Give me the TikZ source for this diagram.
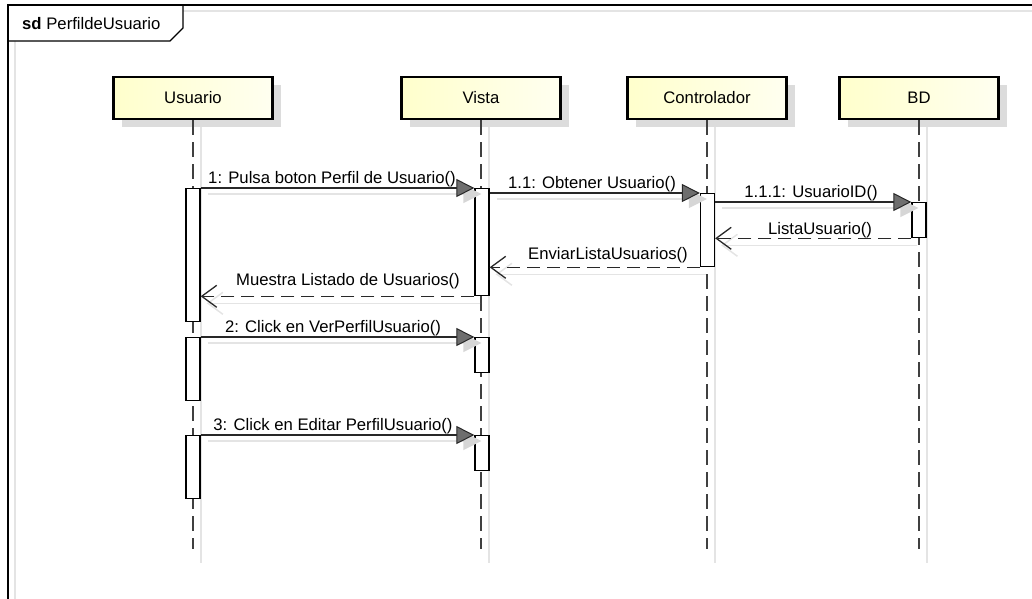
\documentclass[tikz,border=0pt]{standalone}
\usepackage{fontspec}
\setmainfont{Liberation Sans}
\usetikzlibrary{arrows.meta}

\definecolor{headL}{RGB}{255,255,204}
\definecolor{headR}{RGB}{255,255,240}
\definecolor{dropshade}{RGB}{220,220,220}
\definecolor{ghost}{RGB}{228,228,228}
\definecolor{ghosttip}{RGB}{214,214,214}
\definecolor{lifegray}{RGB}{64,64,64}
\definecolor{tipgray}{RGB}{110,110,110}
\definecolor{msgline}{RGB}{40,40,40}

\begin{document}
\begin{tikzpicture}[x=1pt,y=-1pt,
  every node/.style={font=\fontsize{16.7}{20}\selectfont, inner sep=0pt},
  head/.style={draw=black, line width=2.5pt, minimum width=159pt, minimum height=42pt,
    left color=headL, right color=headR},
  headdrop/.style={fill=dropshade, minimum width=159pt, minimum height=42pt},
  life/.style={draw=lifegray, line width=1.5pt, dash pattern=on 15pt off 7pt},
  lifeghost/.style={draw=ghost, line width=1.5pt},
  bar/.style={draw=black, fill=white, line width=1.3pt, minimum width=14pt, anchor=north},
  call/.style={draw=msgline, line width=1.2pt,
    -{Triangle[length=18pt,width=18pt,fill=tipgray,line width=1pt]}},
  callghost/.style={draw=ghost, line width=1.5pt,
    -{Triangle[length=18pt,width=18pt,fill=ghosttip,color=ghosttip]}},
  reply/.style={draw=msgline, line width=1.4pt, dash pattern=on 13pt off 7pt,
    -{Straight Barb[length=15pt,width=22pt,line width=1.3pt]}},
  replyghost/.style={draw=ghost, line width=1.5pt,
    -{Straight Barb[length=15pt,width=22pt,line width=1.5pt]}},
  msglabel/.style={anchor=base}
]
\useasboundingbox (0,0) rectangle (1032,598);
\clip (0,0) rectangle (1032,598);

% interaction frame
\draw[ghost, line width=1.5pt] (15,620) -- (15,11) -- (1050,11);
\path[fill=white] (8,5) -- (183,5) -- (183,28) -- (170,41) -- (8,41) -- cycle;
\draw[black, line width=1.3pt] (183,5) -- (183,28) -- (170,41) -- (8,41);
\draw[black, line width=1.3pt] (8,620) -- (8,5) -- (1050,5);
\node[anchor=base west] (frametitle) at (22,29) {\textbf{sd} PerfildeUsuario};

% lifeline heads: drop shadows first
\node[headdrop] (usrS) at (201,106) {};
\node[headdrop] (visS) at (489,106) {};
\node[headdrop] (ctlS) at (715,106) {};
\node[headdrop] (bdS)  at (927,106) {};

\node[head] (usr) at (193,98) {Usuario};
\node[head] (vis) at (481,98) {Vista};
\node[head] (ctl) at (707,98) {Controlador};
\node[head] (bd)  at (919,98) {BD};

% lifeline ends
\coordinate (usrEnd) at (193,549);
\coordinate (visEnd) at (481,549);
\coordinate (ctlEnd) at (707,549);
\coordinate (bdEnd)  at (919,549);

% lifeline shadows
\draw[lifeghost] (usrS.south) -- ([shift={(8,14)}]usrEnd);
\draw[lifeghost] (visS.south) -- ([shift={(8,14)}]visEnd);
\draw[lifeghost] (ctlS.south) -- ([shift={(8,14)}]ctlEnd);
\draw[lifeghost] (bdS.south)  -- ([shift={(8,14)}]bdEnd);

% lifelines
\draw[life] (usr.south) -- (usrEnd);
\draw[life] (vis.south) -- (visEnd);
\draw[life] (ctl.south) -- (ctlEnd);
\draw[life] (bd.south)  -- (bdEnd);

% activation bars
\node[bar, minimum height=133pt] (ua1) at (193,188) {};
\node[bar, minimum height=63pt]  (ua2) at (193,337) {};
\node[bar, minimum height=63pt]  (ua3) at (193,435) {};
\node[bar, minimum height=107pt] (va1) at (482,188) {};
\node[bar, minimum height=35pt]  (va2) at (482,337) {};
\node[bar, minimum height=35pt]  (va3) at (482,435) {};
\node[bar, minimum height=73pt]  (ca1) at (707.5,193) {};
\node[bar, minimum height=35pt]  (bd1) at (919,202) {};

% message shadows
\draw[callghost] ([shift={(7,6)}]ua1.north east) -- ([shift={(7,6)}]va1.north west);
\draw[callghost] ([shift={(7,6)}]ca1.north west -| va1.east) -- ([shift={(7,6)}]ca1.north west);
\draw[callghost] ([shift={(7,6)}]bd1.north west -| ca1.east) -- ([shift={(7,6)}]bd1.north west);
\draw[callghost] ([shift={(7,6)}]ua2.north east) -- ([shift={(7,6)}]va2.north west);
\draw[callghost] ([shift={(7,6)}]ua3.north east) -- ([shift={(7,6)}]va3.north west);
\draw[replyghost] ([shift={(6,7)}]bd1.south west) -- ([shift={(6,7)}]bd1.south west -| ca1.east);
\draw[replyghost] ([shift={(6,7)}]ca1.south west) -- ([shift={(6,7)}]ca1.south west -| va1.east);
\draw[replyghost] ([shift={(6,7)}]va1.south west) -- ([shift={(6,7)}]va1.south west -| ua1.east);

% messages
\draw[call] (ua1.north east) -- (va1.north west);
\draw[call] (ca1.north west -| va1.east) -- (ca1.north west);
\draw[call] (bd1.north west -| ca1.east) -- (bd1.north west);
\draw[reply] (bd1.south west) -- (bd1.south west -| ca1.east);
\draw[reply] (ca1.south west) -- (ca1.south west -| va1.east);
\draw[reply] (va1.south west) -- (va1.south west -| ua1.east);
\draw[call] (ua2.north east) -- (va2.north west);
\draw[call] (ua3.north east) -- (va3.north west);

% message labels
\node[msglabel] (m1)   at (332,183) {1: Pulsa boton Perfil de Usuario()};
\node[msglabel] (m11)  at (592,188) {1.1: Obtener Usuario()};
\node[msglabel] (m111) at (811,197) {1.1.1: UsuarioID()};
\node[msglabel] (r111) at (820,234) {ListaUsuario()};
\node[msglabel] (r11)  at (608,259) {EnviarListaUsuarios()};
\node[msglabel] (r1)   at (348,285) {Muestra Listado de Usuarios()};
\node[msglabel] (m2)   at (333,332) {2: Click en VerPerfilUsuario()};
\node[msglabel] (m3)   at (333,430) {3: Click en Editar PerfilUsuario()};
\end{tikzpicture}
\end{document}
